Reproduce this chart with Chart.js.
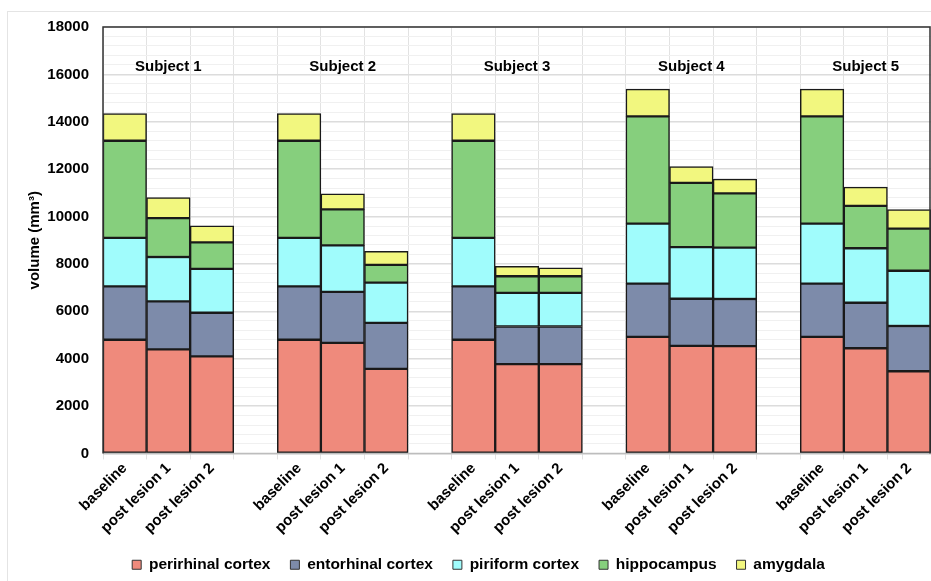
<!DOCTYPE html>
<html>
<head>
<meta charset="utf-8">
<script src="https://cdn.jsdelivr.net/npm/chart.js@4"></script>
<style>
  html, body { margin: 0; padding: 0; background: #fff; }
  #wrap { position: relative; width: 931px; height: 581px; }
  #frame { position: absolute; left: 7px; top: 11px; width: 940px; height: 580px; border: 1px solid #e4e4e4; }
  canvas { position: absolute; left: 0; top: 0; }
</style>
</head>
<body>
<div id="wrap">
  <div id="frame"></div>
  <canvas id="myChart" width="931" height="581"></canvas>
</div>
<script>
const subjects = ['Subject 1', 'Subject 2', 'Subject 3', 'Subject 4', 'Subject 5'];
const sessions = ['baseline', 'post lesion 1', 'post lesion 2'];

// volumes per region, 3 sessions per subject (mm3)
const perirhinal  = [4800, 4390, 4100,  4800, 4670, 3570,  4800, 3770, 3770,  4920, 4540, 4530,  4920, 4440, 3470];
const entorhinal  = [2250, 2030, 1840,  2250, 2150, 1940,  2250, 1590, 1590,  2250, 1990, 1990,  2250, 1920, 1910];
const piriform    = [2050, 1870, 1850,  2050, 1960, 1700,  2050, 1420, 1420,  2530, 2180, 2170,  2530, 2300, 2330];
const hippocampus = [4100, 1640, 1120,  4100, 1520,  750,  4100,  700,  700,  4530, 2710, 2290,  4530, 1790, 1780];
const amygdala    = [1150,  870,  700,  1150,  660,  570,  1150,  420,  350,  1150,  690,  600,  1150,  790,  800];

const yTicks = [0, 2000, 4000, 6000, 8000, 10000, 12000, 14000, 16000, 18000];

// put an empty slot between subjects
const labels = [];
const withGaps = (arr) => {
  const out = [];
  arr.forEach((v, i) => {
    if (i > 0 && i % 3 === 0) out.push(null);
    out.push(v);
  });
  return out;
};
subjects.forEach((s, i) => {
  if (i > 0) labels.push('');
  sessions.forEach(t => labels.push(t));
});

const font = 'Liberation Sans, Arial, sans-serif';

const mk = (label, data, color) => ({
  label: label,
  data: withGaps(data),
  backgroundColor: color,
  borderColor: '#1a1a1a',
  borderWidth: 1.5,
  borderSkipped: false,
  barPercentage: 1,
  categoryPercentage: 1
});

const subjectTitles = {
  id: 'subjectTitles',
  afterDatasetsDraw(chart) {
    const ctx = chart.ctx;
    const x = chart.scales.x;
    const a = chart.chartArea;
    ctx.save();
    // plot frame
    ctx.strokeStyle = '#bdbdbd';
    ctx.lineWidth = 1.5;
    ctx.beginPath();
    ctx.moveTo(a.left, a.bottom); ctx.lineTo(a.right, a.bottom);
    ctx.stroke();
    ctx.strokeStyle = '#333';
    ctx.beginPath();
    ctx.moveTo(a.left, a.bottom); ctx.lineTo(a.left, a.top);
    ctx.lineTo(a.right - 1, a.top); ctx.lineTo(a.right - 1, a.bottom);
    ctx.stroke();
    ctx.fillStyle = '#000';
    ctx.font = 'bold 15px ' + font;
    ctx.textAlign = 'center';
    ctx.textBaseline = 'middle';
    subjects.forEach((s, i) => {
      ctx.fillText(s, x.getPixelForValue(i * 4 + 1), chart.scales.y.getPixelForValue(16300));
    });
    ctx.restore();
  }
};

const ctx = document.querySelector('#myChart').getContext('2d');
const myChart = new Chart(ctx, {
  type: 'bar',
  data: {
    labels: labels,
    datasets: [
      mk('perirhinal cortex', perirhinal, '#EF8A7C'),
      mk('entorhinal cortex', entorhinal, '#7D8BAA'),
      mk('piriform cortex', piriform, '#A0FCFC'),
      mk('hippocampus', hippocampus, '#86CF7D'),
      mk('amygdala', amygdala, '#F2F77F')
    ]
  },
  options: {
    responsive: false,
    animation: false,
    layout: { padding: { top: 27, right: 0, left: 26, bottom: 0 } },
    plugins: {
      tooltip: { enabled: false },
      legend: {
        position: 'bottom',
        maxHeight: 44,
        labels: {
          color: '#000',
          font: { family: font, size: 15.5, weight: 'bold' },
          boxWidth: 9,
          boxHeight: 9,
          padding: 20,
          generateLabels(chart) {
            return chart.data.datasets.map((d, i) => ({
              text: d.label,
              fillStyle: d.backgroundColor,
              strokeStyle: '#333',
              lineWidth: 1,
              datasetIndex: i
            }));
          }
        }
      }
    },
    scales: {
      x: {
        stacked: true,
        grid: { color: '#e2e2e2', lineWidth: 1, tickLength: 6, offset: true },
        border: { display: false },
        ticks: {
          color: '#000',
          font: { family: font, size: 15, weight: 'bold' },
          maxRotation: 45,
          minRotation: 45,
          autoSkip: false,
          padding: 0
        }
      },
      y: {
        stacked: true,
        min: 0,
        max: 18000,
        afterFit(s) { s.width = 77; },
        title: {
          display: true,
          text: 'volume (mm³)',
          color: '#000',
          font: { family: font, size: 15, weight: 'bold' },
          padding: { top: 0, bottom: 4 }
        },
        grid: {
          color: (c) => (c.tick && c.tick.value % 2000 === 0) ? '#dcdcdc' : '#f0f0f0',
          lineWidth: (c) => (c.tick && c.tick.value % 2000 === 0) ? 1.5 : 1,
          drawTicks: false
        },
        border: { display: false },
        ticks: {
          stepSize: 400,
          autoSkip: false,
          color: '#000',
          padding: 14,
          font: { family: font, size: 15, weight: 'bold' },
          callback: (v) => yTicks.includes(v) ? v : ''
        }
      }
    }
  },
  plugins: [subjectTitles]
});
</script>
</body>
</html>
